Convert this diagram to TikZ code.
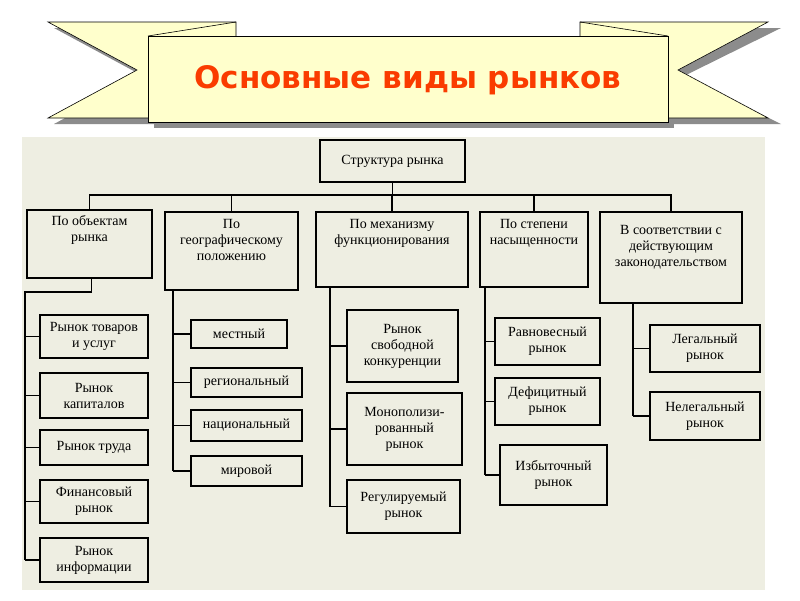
\documentclass[tikz,border=0pt]{standalone}
\usepackage{fontspec}
\setmainfont{Liberation Serif}
\newfontfamily\titlefont{DejaVu Sans}
\definecolor{bgc}{RGB}{238,238,226}
\definecolor{ttl}{RGB}{250,60,0}
\definecolor{rib}{RGB}{255,255,204}
\begin{document}
\begin{tikzpicture}[x=1pt,y=-1pt,
  bx/.style={draw=black,line width=1.1pt,fill=none,align=center,inner sep=1pt,font=\fontsize{14}{16}\selectfont},
  ln/.style={line width=1.1pt},
  ribbon/.style={draw=black,line width=0.6pt,fill=rib},
  shadow/.style={fill=black!45}]
\useasboundingbox (0,0) rectangle (800,600);
\fill[white] (0,0) rectangle (800,600);
\fill[bgc] (22,137) rectangle (765,590);
% banner shadows
\fill[shadow] (54,28)--(161,28)--(161,124)--(54,124)--(143,76)--cycle;
\fill[shadow] (586,28)--(781,28)--(684,76)--(781,124)--(586,124)--cycle;
\fill[shadow] (154,42) rectangle (674,128);
% tails
\path[ribbon] (48,22)--(236,22)--(236,118)--(48,118)--(137,70)--cycle;
\path[ribbon] (580,22)--(768,22)--(678,70)--(768,118)--(580,118)--cycle;
\path[ribbon] (148,36) rectangle (668,122);
\draw[line width=0.6pt] (236,22)--(148,36);
\draw[line width=0.6pt] (580,22)--(668,36);
\node[text=ttl,font=\titlefont\bfseries\fontsize{31}{34}\selectfont] (title) at (408,80) {Основные виды рынков};
% boxes
\newcommand\bx[6]{\node[bx,minimum width=#4-#2,minimum height=#5-#3] (#1) at ({(#2+#4)/2},{(#3+#5)/2}) {#6};}
\bx{s}{320}{140}{465}{182}{Структура рынка}
\bx{a}{27}{210}{152}{278}{По объектам\\рынка\\[16pt]}
\bx{b}{165}{212}{298}{290}{По\\географическому\\положению\\[6pt]}
\bx{c}{316}{212}{468}{287}{По механизму\\функционирования\\[20pt]}
\bx{d}{480}{212}{588}{287}{По степени\\насыщенности\\[20pt]}
\bx{e}{600}{212}{742}{303}{В соответствии с\\действующим\\законодательством\\[8pt]}
\bx{a1}{40}{315}{148}{358}{Рынок товаров\\и услуг}
\bx{a2}{40}{373}{148}{418}{Рынок\\капиталов}
\bx{a3}{40}{430}{148}{465}{Рынок труда}
\bx{a4}{40}{480}{148}{523}{Финансовый\\рынок}
\bx{a5}{40}{538}{148}{582}{Рынок\\информации}
\bx{b1}{191}{320}{287}{348}{местный}
\bx{b2}{191}{368}{302}{397}{региональный}
\bx{b3}{191}{410}{302}{441}{национальный}
\bx{b4}{191}{456}{302}{486}{мировой}
\bx{c1}{347}{310}{458}{382}{Рынок\\свободной\\конкуренции}
\bx{c2}{347}{393}{462}{465}{Монополизи-\\рованный\\рынок}
\bx{c3}{347}{480}{460}{533}{Регулируемый\\рынок}
\bx{d1}{495}{318}{600}{365}{Равновесный\\рынок}
\bx{d2}{495}{378}{600}{425}{Дефицитный\\рынок}
\bx{d3}{500}{445}{607}{505}{Избыточный\\рынок}
\bx{e1}{650}{325}{760}{372}{Легальный\\рынок}
\bx{e2}{650}{392}{760}{440}{Нелегальный\\рынок}
% bus
\coordinate (bus) at (0,195);
\draw[ln] (s.south) -- (s.south|-bus);
\draw[ln] (a.north) -- (a.north|-bus) -- (e.north|-bus) -- (e.north);
\foreach \n in {b,c,d} \draw[ln] (\n.north) -- (\n.north|-bus);
% A branch
\coordinate (sa) at (25,292);
\draw[ln] ([xshift=2pt]a.south) -- ([xshift=2pt]a.south|-sa) -- (sa) -- (sa|-a5.west);
\foreach \n in {a1,a2,a3,a4,a5} \draw[ln] (\n.west) -- (\n.west-|sa);
% B branch
\coordinate (sb) at (173,0);
\draw[ln] (b.south-|sb) -- (sb|-b4.west);
\foreach \n in {b1,b2,b3,b4} \draw[ln] (\n.west) -- (\n.west-|sb);
% C branch
\coordinate (sc) at (330,0);
\draw[ln] (c.south-|sc) -- (sc|-c3.west);
\foreach \n in {c1,c2,c3} \draw[ln] (\n.west) -- (\n.west-|sc);
% D branch
\coordinate (sd) at (485,0);
\draw[ln] (d.south-|sd) -- (sd|-d3.west);
\foreach \n in {d1,d2,d3} \draw[ln] (\n.west) -- (\n.west-|sd);
% E branch
\coordinate (se) at (633,0);
\draw[ln] (e.south-|se) -- (se|-e2.west);
\foreach \n in {e1,e2} \draw[ln] (\n.west) -- (\n.west-|se);
\end{tikzpicture}
\end{document}
